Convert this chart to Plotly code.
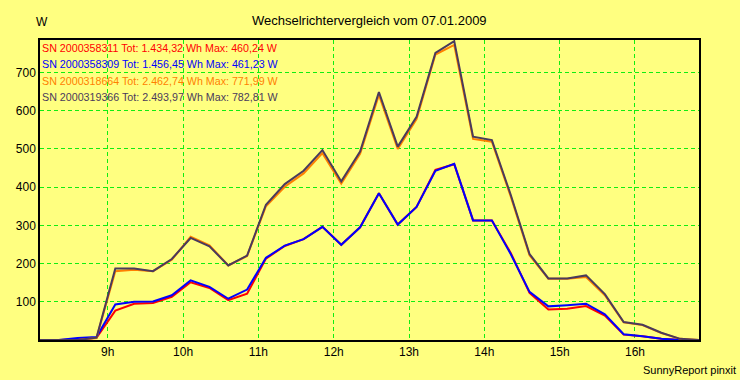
import plotly.graph_objects as go

# ---- data ----
times = ["08:06", "08:21", "08:36", "08:51", "09:06", "09:21", "09:36", "09:51",
         "10:06", "10:21", "10:36", "10:51", "11:06", "11:21", "11:36", "11:51",
         "12:06", "12:21", "12:36", "12:51", "13:06", "13:21", "13:36", "13:51",
         "14:06", "14:21", "14:36", "14:51", "15:06", "15:21", "15:36", "15:51",
         "16:06", "16:21", "16:36", "16:51"]

sn_311 = [0, 0, 2, 6, 77, 95, 97, 113, 151, 136, 104, 121, 213, 246, 264, 296,
          249, 295, 384, 302, 348, 445, 460, 313, 313, 228, 123, 80, 82, 89, 64,
          14, 10, 3, 0, 0]
sn_309 = [0, 0, 5, 8, 93, 100, 101, 117, 156, 139, 108, 132, 215, 247, 264, 296,
          249, 295, 384, 302, 348, 443, 461, 313, 313, 225, 126, 88, 91, 95, 67,
          15, 10, 3, 0, 0]
sn_664 = [0, 0, 0, 5, 180, 184, 180, 210, 270, 248, 195, 220, 350, 401, 436, 489,
          409, 487, 641, 500, 578, 747, 772, 526, 519, 376, 222, 160, 160, 165, 117,
          46, 39, 18, 3, 0]
sn_366 = [0, 0, 0, 6, 187, 187, 180, 212, 267, 245, 195, 221, 354, 408, 443, 497,
          415, 493, 649, 506, 584, 751, 782, 532, 523, 380, 225, 161, 161, 169, 120,
          47, 40, 19, 3, 0]

serials = ["2000358311", "2000358309", "2000318664", "2000319366"]
totals = ["1.434,32", "1.456,45", "2.462,74", "2.493,97"]
maxima = ["460,24", "461,23", "771,99", "782,81"]
colors = ["#FF0000", "#0000FF", "#FF8000", "#4A3A5C"]

hour_ticks = [9, 10, 11, 12, 13, 14, 15, 16]
hour_labels = ["9h", "10h", "11h", "12h", "13h", "14h", "15h", "16h"]
y_ticks = [100, 200, 300, 400, 500, 600, 700]

title = "Wechselrichtervergleich vom 07.01.2009"
footer = "SunnyReport pinxit"

# ---- figure ----
x_hours = [int(t[:2]) + int(t[3:]) / 60 for t in times]
series = [sn_311, sn_309, sn_664, sn_366]

BG = "#FFFF80"
GRID = "#10EE10"
FONT = "Liberation Sans, Arial, sans-serif"

fig = go.Figure()
for vals, col, sn in zip(series, colors, serials):
    fig.add_trace(go.Scatter(x=x_hours, y=vals, mode="lines",
                             line=dict(color=col, width=2),
                             name="SN " + sn, showlegend=False))

fig.update_layout(
    width=740, height=380,
    margin=dict(l=40, r=41, t=40, b=40),
    paper_bgcolor=BG, plot_bgcolor=BG,
    font=dict(family=FONT, size=12, color="black"),
    showlegend=False,
)
fig.update_xaxes(range=[x_hours[0], x_hours[-1]], tickvals=hour_ticks,
                 ticktext=hour_labels, showgrid=True, gridcolor=GRID,
                 gridwidth=1, griddash="4px,3px", showline=True,
                 linecolor="black", linewidth=1.5, mirror=True, zeroline=False,
                 ticks="", tickfont=dict(size=12, color="black"))
fig.update_yaxes(range=[0, 785], tickvals=y_ticks, showgrid=True,
                 gridcolor=GRID, gridwidth=1, griddash="4px,3px",
                 showline=True, linecolor="black", linewidth=1.5, mirror=True,
                 zeroline=False, ticks="", tickfont=dict(size=12, color="black"))

# title, unit, footer
fig.add_annotation(text=title, xref="paper", yref="paper", x=0.5, y=1,
                   yshift=20, xanchor="center", yanchor="middle",
                   showarrow=False, font=dict(size=13, color="black"))
fig.add_annotation(text="W", xref="paper", yref="paper", x=0, y=1,
                   xshift=2, yshift=18, xanchor="center", yanchor="middle",
                   showarrow=False, font=dict(size=12, color="black"))
fig.add_annotation(text=footer, xref="paper", yref="paper", x=1, y=0,
                   xshift=39, yshift=-30, xanchor="right", yanchor="middle",
                   showarrow=False, font=dict(size=11, color="black"))

# legend-like coloured text
shifts = [-8, -24, -40.5, -56.5]
for sn, tot, mx, col, ys in zip(serials, totals, maxima, colors, shifts):
    fig.add_annotation(text=f"SN {sn} Tot: {tot} Wh Max: {mx} W",
                       xref="paper", yref="paper", x=0, y=1, xshift=0,
                       yshift=ys, xanchor="left", yanchor="middle",
                       showarrow=False, font=dict(size=10.7, color=col))

fig.write_html("out.html",
               config={"displayModeBar": False},
               post_script="document.body.style.margin='0px';"
                           "document.body.style.background='#FFFF80';")
